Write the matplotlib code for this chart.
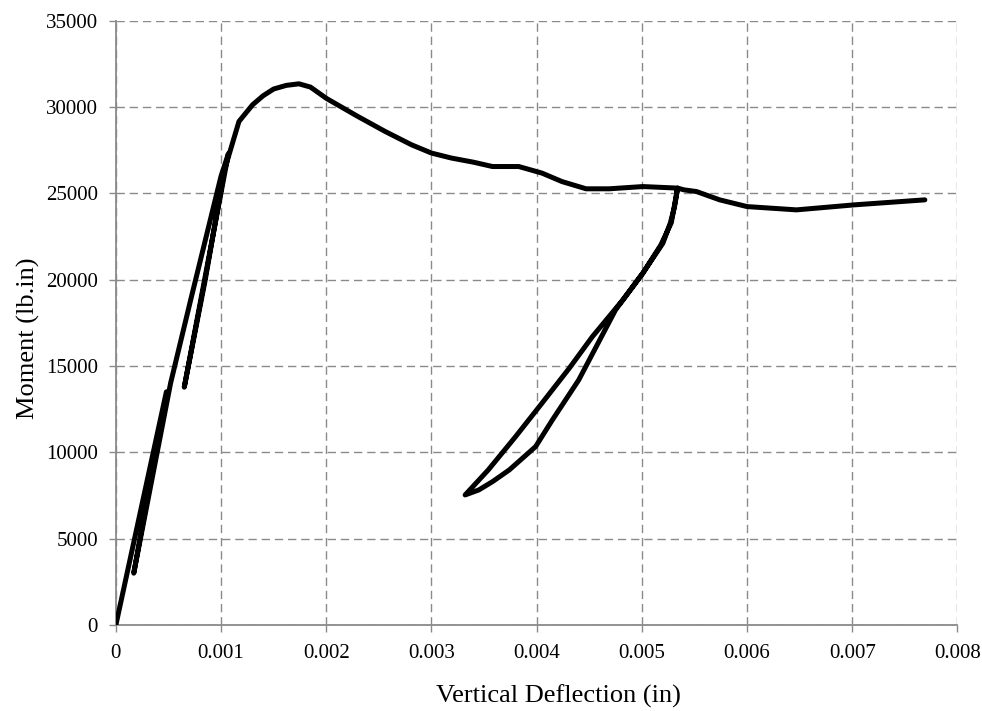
import matplotlib.pyplot as plt

# Moment vs vertical deflection
deflection = [
    0.0, 0.00048,                                   # first loading
    0.00017,                                        # first unloading
    0.00052, 0.00071, 0.00100, 0.00107,            # reloading
    0.00065,                                        # second unloading
    0.00085, 0.00103, 0.00117, 0.0013, 0.0014, 0.0015, 0.00162, 0.00174,
    0.00185, 0.0020, 0.0023, 0.00256, 0.00281, 0.0030, 0.00319,
    0.0034, 0.00358, 0.00383, 0.00405, 0.00424, 0.00447, 0.00469, 0.00501,
    0.00534,                                        # start of big unloading
    0.00531, 0.00527, 0.0052, 0.00501, 0.00475, 0.0046, 0.0044, 0.00415,
    0.00399, 0.00374, 0.00358, 0.00345, 0.00332,
    0.00354, 0.0038, 0.00405, 0.00431, 0.00453, 0.00482, 0.00501, 0.00518,
    0.00528, 0.00534,                               # reloading
    0.0054, 0.00552, 0.00574, 0.0060, 0.00647, 0.00702, 0.00769,
]
moment = [
    0, 13500,
    3000,
    14000, 18800, 26000, 27300,
    13770,
    20000, 26300, 29160, 30130, 30650, 31040, 31250, 31340,
    31150, 30500, 29450, 28580, 27810, 27330, 27040,
    26800, 26550, 26550, 26170, 25680, 25260, 25260, 25390,
    25300,
    24200, 23270, 22110, 20380, 18250, 16510, 14190, 11880,
    10330, 8980, 8300, 7820, 7530,
    8980, 10910, 12840, 14870, 16700, 18830, 20380, 22000,
    23300, 25300,
    25200, 25100, 24620, 24230, 24040, 24330, 24620,
]

x_ticks = [0, 0.001, 0.002, 0.003, 0.004, 0.005, 0.006, 0.007, 0.008]
x_labels = ["0", "0.001", "0.002", "0.003", "0.004", "0.005", "0.006", "0.007", "0.008"]
y_ticks = list(range(0, 35001, 5000))

plt.rcParams["font.family"] = ["Liberation Serif", "DejaVu Serif"]

fig = plt.figure(figsize=(9.82, 7.11), dpi=100)
ax = fig.add_axes([0.118, 0.121, 0.857, 0.85])

ax.plot(deflection, moment, color="black", linewidth=3.6,
        solid_joinstyle="round", solid_capstyle="round", zorder=3)

ax.set_xlim(0, 0.008)
ax.set_ylim(0, 35000)
ax.set_xticks(x_ticks)
ax.set_xticklabels(x_labels)
ax.set_yticks(y_ticks)

# Dashed grey grid, no top/right frame
ax.grid(True, color="#8a8a8a", linestyle=(0, (6, 3.5)), linewidth=1.0)
for side in ["top", "right"]:
    ax.spines[side].set_visible(False)
for side in ["left", "bottom"]:
    ax.spines[side].set_color("#8a8a8a")
    ax.spines[side].set_linewidth(1.3)
ax.tick_params(axis="both", colors="#8a8a8a", length=5, width=1.0,
               labelsize=15, labelcolor="black")
ax.tick_params(axis="x", pad=9)
ax.tick_params(axis="y", pad=8)

# Axis titles sit a little off-centre in the original
fig.text(558 / 982, 1 - 703 / 711, "Vertical Deflection (in)", fontsize=19,
         ha="center", va="baseline")
fig.text(28 / 982, 1 - 338 / 711, "Moment (lb.in)", fontsize=19,
         rotation=90, ha="center", va="center")

fig.savefig("out.png", dpi=100)
